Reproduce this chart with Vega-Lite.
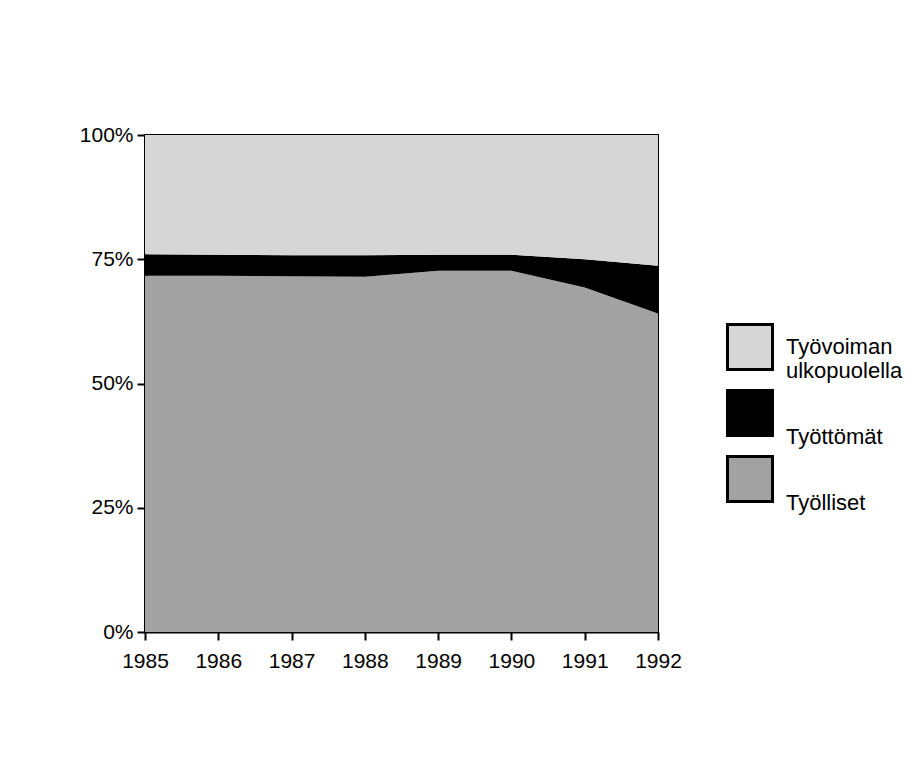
{
  "$schema": "https://vega.github.io/schema/vega-lite/v6.json",
  "width": 513,
  "height": 497,
  "autosize": {"type": "none"},
  "padding": {"left": 145, "top": 135, "right": 257, "bottom": 130},
  "background": "white",
  "config": {
    "font": "Liberation Sans",
    "view": {"stroke": "black", "strokeWidth": 2},
    "axis": {"labelFont": "Liberation Sans", "labelFontSize": 21, "labelColor": "black", "domainColor": "black", "domainWidth": 2, "tickColor": "black", "tickWidth": 2, "tickSize": 8, "grid": false, "title": null}
  },
  "data": {"values": [
    {"year": 1985, "group": "Työlliset", "value": 71.7, "ord": 1},
    {"year": 1986, "group": "Työlliset", "value": 71.7, "ord": 1},
    {"year": 1987, "group": "Työlliset", "value": 71.6, "ord": 1},
    {"year": 1988, "group": "Työlliset", "value": 71.5, "ord": 1},
    {"year": 1989, "group": "Työlliset", "value": 72.7, "ord": 1},
    {"year": 1990, "group": "Työlliset", "value": 72.7, "ord": 1},
    {"year": 1991, "group": "Työlliset", "value": 69.3, "ord": 1},
    {"year": 1992, "group": "Työlliset", "value": 64.1, "ord": 1},
    {"year": 1985, "group": "Työttömät", "value": 4.3, "ord": 2},
    {"year": 1986, "group": "Työttömät", "value": 4.2, "ord": 2},
    {"year": 1987, "group": "Työttömät", "value": 4.2, "ord": 2},
    {"year": 1988, "group": "Työttömät", "value": 4.3, "ord": 2},
    {"year": 1989, "group": "Työttömät", "value": 3.2, "ord": 2},
    {"year": 1990, "group": "Työttömät", "value": 3.2, "ord": 2},
    {"year": 1991, "group": "Työttömät", "value": 5.7, "ord": 2},
    {"year": 1992, "group": "Työttömät", "value": 9.6, "ord": 2},
    {"year": 1985, "group": "Työvoiman ulkopuolella", "value": 24.0, "ord": 3},
    {"year": 1986, "group": "Työvoiman ulkopuolella", "value": 24.1, "ord": 3},
    {"year": 1987, "group": "Työvoiman ulkopuolella", "value": 24.2, "ord": 3},
    {"year": 1988, "group": "Työvoiman ulkopuolella", "value": 24.2, "ord": 3},
    {"year": 1989, "group": "Työvoiman ulkopuolella", "value": 24.1, "ord": 3},
    {"year": 1990, "group": "Työvoiman ulkopuolella", "value": 24.1, "ord": 3},
    {"year": 1991, "group": "Työvoiman ulkopuolella", "value": 25.0, "ord": 3},
    {"year": 1992, "group": "Työvoiman ulkopuolella", "value": 26.3, "ord": 3}
  ]},
  "mark": {"type": "area", "interpolate": "linear"},
  "encoding": {
    "x": {"field": "year", "type": "quantitative", "scale": {"domain": [1985, 1992], "nice": false, "zero": false},
      "axis": {"values": [1985, 1986, 1987, 1988, 1989, 1990, 1991, 1992], "format": "d", "labelPadding": 10, "labelFlush": false}},
    "y": {"field": "value", "type": "quantitative", "stack": "normalize",
      "axis": {"values": [0, 0.25, 0.5, 0.75, 1], "format": ".0%", "labelPadding": 4}},
    "order": {"field": "ord", "type": "quantitative"},
    "color": {"field": "group", "type": "nominal",
      "scale": {"domain": ["Työvoiman ulkopuolella", "Työttömät", "Työlliset"], "range": ["#d6d6d6", "#000000", "#a2a2a2"]},
      "legend": {"title": null, "orient": "none", "legendX": 581, "legendY": 188, "symbolType": "square", "symbolSize": 2025, "symbolStrokeColor": "black", "symbolStrokeWidth": 3, "labelFontSize": 22, "labelFont": "Liberation Sans", "labelColor": "black", "labelOffset": 12, "rowPadding": 2, "labelLimit": 300,
        "labelExpr": "datum.label == 'Työvoiman ulkopuolella' ? ['Työvoiman', 'ulkopuolella'] : ['', datum.label]"}}
  }
}
